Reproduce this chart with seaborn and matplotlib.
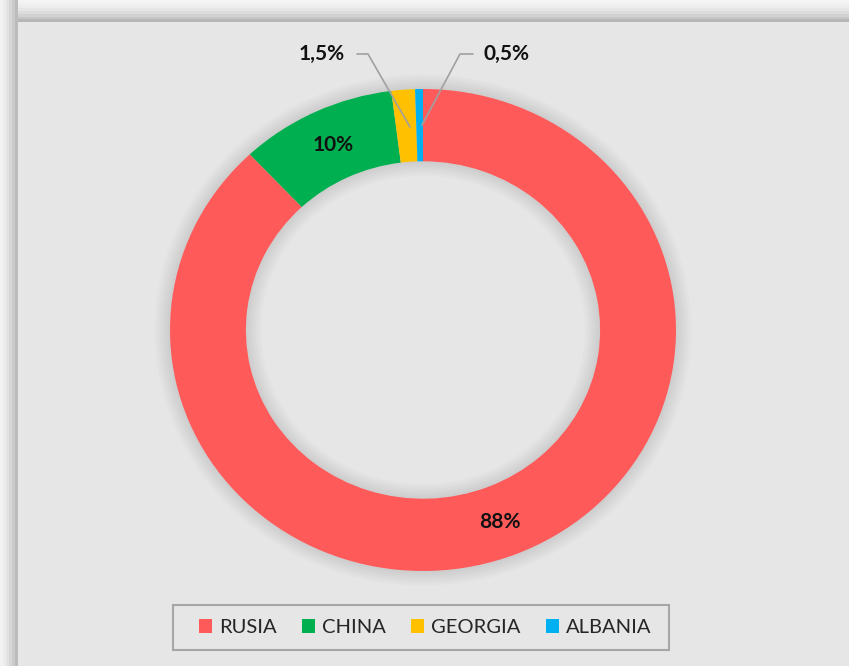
import numpy as np
import matplotlib.pyplot as plt
import seaborn as sns
from matplotlib.patches import Rectangle, Patch

# Data
countries = ['RUSIA', 'CHINA', 'GEORGIA', 'ALBANIA']
shares = [88, 10, 1.5, 0.5]
share_labels = ['88%', '10%', '1,5%', '0,5%']
colors = ['#FF5A5A', '#00B050', '#FFC000', '#00B0F0']

sns.set_style('white')
plt.rcParams['font.family'] = ['Lato', 'DejaVu Sans']

W, H = 849, 666
bg = '#e6e6e6'
fig = plt.figure(figsize=(W / 100, H / 100), dpi=100, facecolor=bg)

# shadowed frame on top / left edges
def px_rect(x, y, w, h, c, fill=True, z=-5):
    r = Rectangle((x / W, 1 - (y + h) / H), w / W, h / H, transform=fig.transFigure,
                  zorder=z, fill=fill)
    if fill:
        r.set_color(c)
        r.set_linewidth(0)
    else:
        r.set_edgecolor(c)
        r.set_linewidth(1.5)
    fig.patches.append(r)

top_band = ['#f4f4f4', '#f0f0f0', '#ececec', '#e6e6e6', '#dcdcdc', '#d2d2d2', '#c6c6c6', '#b6b6b6']
for i, c in enumerate(top_band):
    px_rect(0, i * 2.75, W, 2.75, c)
left_band = ['#f2f2f2', '#ececec', '#e2e2e2', '#d6d6d6', '#cacaca', '#bcbcbc']
for i, c in enumerate(left_band):
    px_rect(i * 3, 0, 3, H, c)

# pie axes: centre at pixel (423, 330), radii 253 x 241
cx, cy, rx, ry = 423, 330, 253, 241
ax = fig.add_axes([0, 0, 1, 1])
ax.set_facecolor('none')

# soft shadow around the ring
for k in range(6):
    ax.pie([1], radius=1.0 + 0.01 * (k + 1), colors=['#000000'],
           wedgeprops=dict(width=0.30 + 0.02 * (k + 1), alpha=0.014, lw=0))

wedges, _ = ax.pie(shares, colors=colors, startangle=90, counterclock=False,
                   radius=1.0, wedgeprops=dict(width=0.30, lw=0))
ax.set_aspect('auto')
ax.set_xlim(-cx / rx, (W - cx) / rx)
ax.set_ylim((cy - H) / ry, cy / ry)
ax.axis('off')

def to_fig(x, y):
    return x / W, 1 - y / H

lab_kw = dict(fontsize=15, fontweight='bold', color='#111111', ha='center', va='center')
fig.text(*to_fig(500, 522), share_labels[0], **lab_kw)
fig.text(*to_fig(333, 145), share_labels[1], **lab_kw)
fig.text(*to_fig(322, 54), share_labels[2], **lab_kw)
fig.text(*to_fig(507, 54), share_labels[3], **lab_kw)

# leader lines
for pts in ([(357, 54), (368, 54), (410, 127)], [(473, 54), (460, 54), (422, 125)]):
    xs = [p[0] / W for p in pts]
    ys = [1 - p[1] / H for p in pts]
    fig.add_artist(plt.Line2D(xs, ys, transform=fig.transFigure, color='#a0a0a0', lw=1.2))

# legend: box drawn separately, entries centred inside
px_rect(173, 605, 496, 45, '#a6a6a6', fill=False, z=5)
handles = [Patch(facecolor=c, edgecolor='none') for c in colors]
leg = fig.legend(handles, countries, loc='center', ncol=4,
                 bbox_to_anchor=(425 / W, 1 - 627.5 / H),
                 frameon=False, fontsize=14.5, handlelength=0.65, handleheight=0.65,
                 handletextpad=0.35, columnspacing=1.25, fancybox=False,
                 labelcolor='#262626')

fig.savefig('out.png', dpi=100, facecolor=bg)
